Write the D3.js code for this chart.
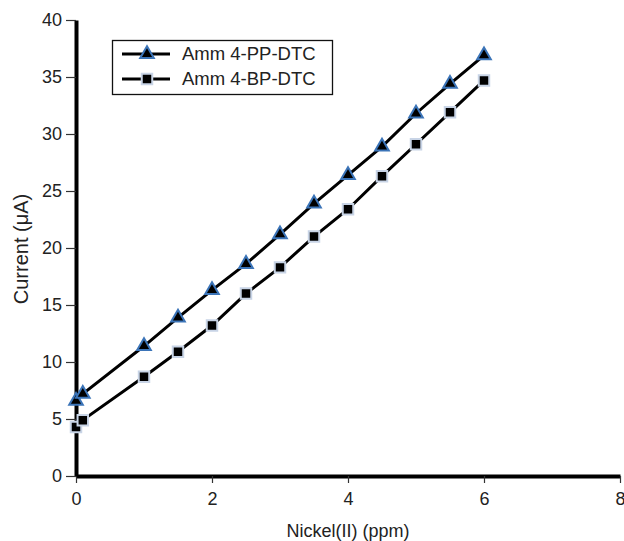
<!DOCTYPE html>
<html><head><meta charset="utf-8">
<script src="https://cdn.jsdelivr.net/npm/d3@7"></script>
<style>body{margin:0;background:#fff}svg{display:block}text{font-family:"Liberation Sans",Arial,sans-serif;fill:#222}</style>
</head><body>
<svg id="c" width="624" height="541"></svg>
<script>
const xValues = [0, 0.1, 1, 1.5, 2, 2.5, 3, 3.5, 4, 4.5, 5, 5.5, 6];
const ppValues = [6.6, 7.2, 11.4, 13.9, 16.3, 18.6, 21.2, 23.9, 26.4, 28.9, 31.8, 34.4, 36.9];
const bpValues = [4.3, 4.9, 8.7, 10.9, 13.2, 16.0, 18.3, 21.0, 23.4, 26.3, 29.1, 31.9, 34.7];
const seriesNames = ["Amm 4-PP-DTC", "Amm 4-BP-DTC"];
const xTicks = [0, 2, 4, 6, 8];
const yTicks = [0, 5, 10, 15, 20, 25, 30, 35, 40];

const svg = d3.select("#c");
const x = d3.scaleLinear().domain([0, 8]).range([76, 620]);
const y = d3.scaleLinear().domain([0, 40]).range([476, 20]);
const FS = 18;

// axes
const xAxis = svg.append("g").attr("transform", "translate(0,476)")
  .call(d3.axisBottom(x).tickValues(xTicks).tickSize(7).tickSizeOuter(0).tickPadding(9));
const yAxis = svg.append("g").attr("transform", "translate(76,0)")
  .call(d3.axisLeft(y).tickValues(yTicks).tickSize(10).tickSizeOuter(0).tickPadding(4));
[xAxis, yAxis].forEach(g => {
  g.select(".domain").attr("stroke", "#000").attr("stroke-width", 4);
  g.selectAll(".tick line").attr("stroke", "#333").attr("stroke-width", 1.2);
  g.selectAll(".tick text").attr("font-size", FS).attr("fill", "#222")
    .style("font-family", '"Liberation Sans",Arial,sans-serif');
});
svg.append("text").attr("x", 348).attr("y", 537).attr("text-anchor", "middle")
  .attr("font-size", FS).text("Nickel(II) (ppm)");
svg.append("text").attr("transform", "translate(28,249) rotate(-90)").attr("text-anchor", "middle")
  .attr("font-size", 20).text("Current (μA)");

const line = d3.line().x(d => x(d[0])).y(d => y(d[1]));
const ppData = xValues.map((v, i) => [v, ppValues[i]]);
const bpData = xValues.map((v, i) => [v, bpValues[i]]);

const tri = d3.symbol().type(d3.symbolTriangle).size(80);
const sq = d3.symbol().type(d3.symbolSquare).size(110);

function drawSeries(data, sym, stroke) {
  svg.append("path").datum(data).attr("d", line).attr("fill", "none")
    .attr("stroke", "#000").attr("stroke-width", 3);
  svg.append("g").selectAll("path").data(data).join("path")
    .attr("d", sym).attr("transform", d => `translate(${x(d[0])},${y(d[1])})`)
    .attr("fill", "#000").attr("stroke", stroke).attr("stroke-width", 2);
}
drawSeries(bpData, sq, "#c8d4e6");
drawSeries(ppData, tri, "#3b74b8");

// legend
const lg = svg.append("g");
lg.append("rect").attr("x", 112.5).attr("y", 40.5).attr("width", 220).attr("height", 54)
  .attr("fill", "#fff").attr("stroke", "#111").attr("stroke-width", 1.3);
const rows = [{name: seriesNames[0], sym: tri, stroke: "#3b74b8", yy: 54},
              {name: seriesNames[1], sym: sq, stroke: "#c8d4e6", yy: 79}];
rows.forEach(r => {
  lg.append("line").attr("x1", 122).attr("x2", 170).attr("y1", r.yy).attr("y2", r.yy)
    .attr("stroke", "#000").attr("stroke-width", 3);
  lg.append("path").attr("d", r.sym).attr("transform", `translate(147,${r.yy})`)
    .attr("fill", "#000").attr("stroke", r.stroke).attr("stroke-width", 2);
  lg.append("text").attr("x", 182).attr("y", r.yy + 6).attr("font-size", 18.5).text(r.name);
});
</script>
</body></html>
